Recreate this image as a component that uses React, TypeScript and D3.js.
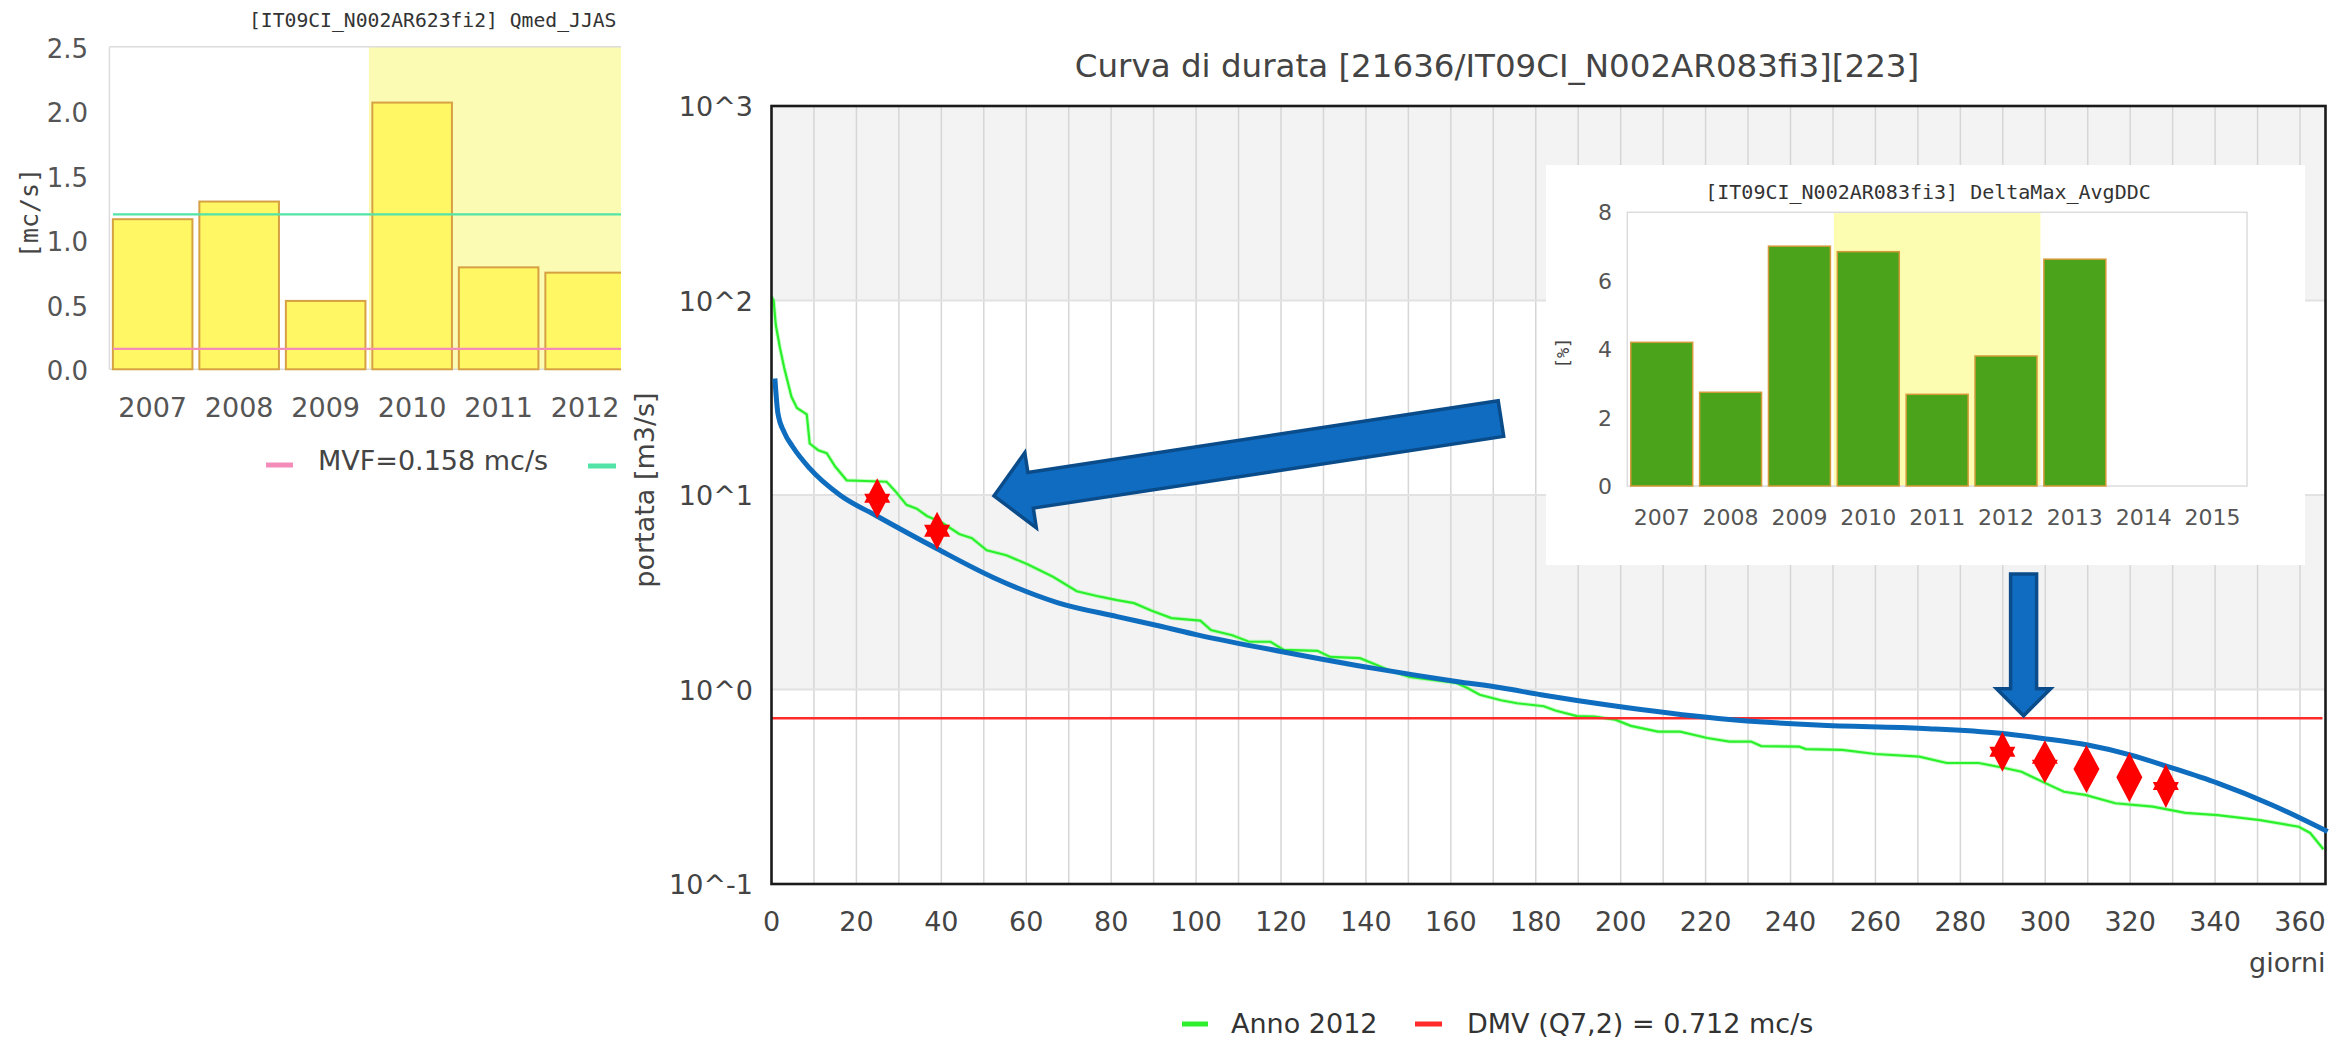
import React from "react";
import * as d3 from "d3";

const W = 2351;
const H = 1040;

// ---------- Main chart data (duration curve) ----------
const greenDays = [0, 0.5, 1, 2, 3, 4.7, 6, 8.3, 9, 11, 13, 15, 17.7, 22.1, 27.1, 29.1, 31.8, 34.2, 36.6, 40.2, 44.2, 47.2, 50.7, 55.3, 60.3, 66.3, 71.9, 77.4, 81.4, 85.4, 89.4, 94.2, 101, 103.5, 108.5, 112.5, 117.5, 120.6, 128.6, 131.6, 138.6, 142.4, 145.7, 150.3, 155.7, 161.3, 163.8, 166.8, 171.8, 175.6, 181.9, 184.6, 189.7, 193.9, 198.7, 202.4, 208.8, 214, 220.4, 225.6, 230.7, 233.1, 242.1, 243.6, 252.2, 260, 270.3, 276.8, 284.3, 290.4, 294.4, 299.4, 304.4, 309.4, 316.5, 325.3, 333, 340.6, 350.6, 359.7, 362.4, 365.5];
const greenFlows = [105, 100, 75, 57, 45, 32, 28, 26, 18.4, 17, 16.4, 14, 11.9, 11.8, 11.7, 10.5, 8.9, 8.5, 7.8, 7.2, 6.3, 6.0, 5.2, 4.9, 4.4, 3.8, 3.2, 3.0, 2.88, 2.78, 2.55, 2.33, 2.26, 2.02, 1.9, 1.76, 1.76, 1.6, 1.58, 1.47, 1.45, 1.34, 1.25, 1.16, 1.12, 1.08, 1.02, 0.94, 0.88, 0.85, 0.82, 0.78, 0.73, 0.725, 0.7, 0.65, 0.607, 0.607, 0.563, 0.54, 0.54, 0.512, 0.508, 0.494, 0.489, 0.466, 0.452, 0.419, 0.419, 0.395, 0.378, 0.335, 0.298, 0.287, 0.26, 0.25, 0.232, 0.226, 0.213, 0.197, 0.183, 0.151];

const blueDays = [0.8, 1.5, 3, 5, 9, 16.1, 24.8, 39, 52.2, 67.3, 81.4, 91.4, 100.3, 120.6, 142.3, 161.3, 171.8, 181.2, 197.4, 223, 246.2, 271.3, 289.4, 299.4, 310, 320.2, 329.1, 340.6, 353.4, 366.5];
const blueFlows = [39.7, 26.4, 21, 17.7, 13.7, 10, 7.8, 5.29, 3.77, 2.8, 2.37, 2.12, 1.91, 1.56, 1.28, 1.1, 1.02, 0.94, 0.83, 0.71, 0.656, 0.63, 0.595, 0.56, 0.518, 0.46, 0.4, 0.33, 0.255, 0.186];

const dmvValue = 0.712;
const xTickDays = [0, 20, 40, 60, 80, 100, 120, 140, 160, 180, 200, 220, 240, 260, 280, 300, 320, 340, 360];
const yTickExps = [-1, 0, 1, 2, 3];

const markerDays = [24.9, 39.0, 289.9, 299.9, 309.7, 319.8, 328.4];
const markerFlows = [9.62, 6.55, 0.479, 0.4255, 0.39, 0.3535, 0.319];

// arrows: [tailDay, tailFlow, tipDay, tipFlow]
const arrowBig = [171.8, 24.7, 52.4, 9.9];
const arrowDown = [294.9, 3.93, 294.9, 0.733];

// ---------- Left chart data ----------
const leftYears = ["2007", "2008", "2009", "2010", "2011", "2012"];
const leftValues = [1.163, 1.3, 0.53, 2.067, 0.79, 0.749];
const leftMvf = 0.158;
const leftRef = 1.2;
const leftYTicks = [0, 0.5, 1.0, 1.5, 2.0, 2.5];

// ---------- Inset chart data ----------
const insetYears = ["2007", "2008", "2009", "2010", "2011", "2012", "2013", "2014", "2015"];
const insetValues = [4.2, 2.74, 7.01, 6.85, 2.68, 3.8, 6.63, null, null];
const insetYTicks = [0, 2, 4, 6, 8];

// marker shape styles (size, spike offset)
const markerShapes = [
  { h: 40, s: 4.5 },
  { h: 38, s: 6 },
  { h: 40, s: 5 },
  { h: 43, s: 2 },
  { h: 48, s: 0 },
  { h: 50, s: 0 },
  { h: 44, s: 4 },
];

function starPath(cx: number, cy: number, w: number, h: number, s: number) {
  const hw = w / 2;
  // both triangles drawn with the same winding so that nonzero fill unites them
  return `M${cx},${cy - h / 2}L${cx + hw},${cy + s}L${cx - hw},${cy + s}Z` +
    `M${cx},${cy + h / 2}L${cx - hw},${cy - s}L${cx + hw},${cy - s}Z`;
}

function arrowPath(tail: [number, number], tip: [number, number], shaftW: number, headW: number, headL: number) {
  const dx = tip[0] - tail[0];
  const dy = tip[1] - tail[1];
  const len = Math.hypot(dx, dy);
  const ux = dx / len, uy = dy / len;
  const nx = -uy, ny = ux;
  const bx = tip[0] - ux * headL, by = tip[1] - uy * headL;
  const p = (x: number, y: number) => `${x.toFixed(1)},${y.toFixed(1)}`;
  return "M" + [
    p(tail[0] + nx * shaftW / 2, tail[1] + ny * shaftW / 2),
    p(bx + nx * shaftW / 2, by + ny * shaftW / 2),
    p(bx + nx * headW / 2, by + ny * headW / 2),
    p(tip[0], tip[1]),
    p(bx - nx * headW / 2, by - ny * headW / 2),
    p(bx - nx * shaftW / 2, by - ny * shaftW / 2),
    p(tail[0] - nx * shaftW / 2, tail[1] - ny * shaftW / 2),
  ].join("L") + "Z";
}

export default function App() {
  // main scales
  const mx = d3.scaleLinear().domain([0, 366]).range([771.5, 2325.5]);
  const my = d3.scaleLog().domain([0.1, 1000]).range([884, 106]);
  const pL = mx(0), pR = mx(366), pT = my(1000), pB = my(0.1);

  const greenPts = greenDays.map((d, i) => [d, greenFlows[i]] as [number, number]);
  const bluePts = blueDays.map((d, i) => [d, blueFlows[i]] as [number, number]);
  const lineGen = d3.line<[number, number]>().x((d) => mx(d[0])).y((d) => my(d[1]));
  const blueGen = d3.line<[number, number]>().x((d) => mx(d[0])).y((d) => my(d[1])).curve(d3.curveMonotoneX);

  const gridDays = d3.range(10, 366, 10);

  // left scales
  const lx = d3.scaleBand<string>().domain(leftYears).range([109.4, 628.4]).paddingInner(0.08).paddingOuter(0.04);
  const ly = d3.scaleLinear().domain([0, 2.5]).range([369.3, 46.7]);
  const lClip = 621;
  const lYellowX = ((lx("2009") as number) + lx.bandwidth() + (lx("2010") as number)) / 2;

  // inset scales
  const ix = d3.scaleBand<string>().domain(insetYears).range([1627.3, 2247]).paddingInner(0.1).paddingOuter(0.05);
  const iy = d3.scaleLinear().domain([0, 8]).range([486, 212.3]);
  const iY0 = ((ix("2009") as number) + ix.bandwidth() + (ix("2010") as number)) / 2;
  const iY1 = ((ix("2012") as number) + ix.bandwidth() + (ix("2013") as number)) / 2;

  const tickColor = "#444";

  const bigArrow = arrowPath(
    [mx(arrowBig[0]), my(arrowBig[1])],
    [mx(arrowBig[2]), my(arrowBig[3])],
    36, 76, 37
  );
  const downArrow = arrowPath(
    [mx(arrowDown[0]), my(arrowDown[1])],
    [mx(arrowDown[2]), my(arrowDown[3])],
    26, 54, 27
  );

  return (
    <svg
      width={W}
      height={H}
      viewBox={`0 0 ${W} ${H}`}
      style={{ position: "absolute", left: 0, top: 0, background: "#fff" }}
      fontFamily="DejaVu Sans"
    >
      <defs>
        <clipPath id="leftClip">
          <rect x={0} y={0} width={lClip} height={H} />
        </clipPath>
        <clipPath id="mainClip">
          <rect x={pL} y={pT} width={pR - pL + 3} height={pB - pT} />
        </clipPath>
      </defs>
      <rect x={0} y={0} width={W} height={H} fill="#fff" />

      {/* ================= LEFT CHART ================= */}
      <g clipPath="url(#leftClip)">
        <text x={249} y={27} fontFamily="DejaVu Sans Mono" fontSize={19.7} fill="#333">
          [IT09CI_N002AR623fi2] Qmed_JJAS
        </text>
        <rect x={lYellowX} y={ly(2.5)} width={lClip - lYellowX} height={ly(0) - ly(2.5)} fill="#fbfbb4" />
        <line x1={109.4} x2={lClip} y1={ly(2.5)} y2={ly(2.5)} stroke="#dcdcdc" strokeWidth={1.5} />
        <line x1={109.4} x2={109.4} y1={ly(2.5)} y2={ly(0)} stroke="#dcdcdc" strokeWidth={1.5} />
        <line x1={109.4} x2={lClip} y1={ly(0)} y2={ly(0)} stroke="#dcdcdc" strokeWidth={1.5} />
        {leftYears.map((yr, i) => (
          <rect
            key={yr}
            x={lx(yr)}
            y={ly(leftValues[i])}
            width={lx.bandwidth()}
            height={ly(0) - ly(leftValues[i])}
            fill="#fff764"
            stroke="#d6a043"
            strokeWidth={2}
          />
        ))}
        <line x1={113} x2={lClip} y1={ly(leftRef)} y2={ly(leftRef)} stroke="#52e3a6" strokeWidth={2.2} />
        <line x1={113} x2={lClip} y1={ly(leftMvf)} y2={ly(leftMvf)} stroke="#f48cba" strokeWidth={2.2} />
        {leftYTicks.map((t) => (
          <text key={t} x={88} y={ly(t) + 11} textAnchor="end" fontSize={26} fill="#555">
            {t.toFixed(1)}
          </text>
        ))}
        {leftYears.map((yr) => (
          <text key={yr} x={(lx(yr) as number) + lx.bandwidth() / 2} y={417} textAnchor="middle" fontSize={27} fill="#555">
            {yr}
          </text>
        ))}
        <text
          transform={`translate(38,213) rotate(-90)`}
          textAnchor="middle"
          fontFamily="DejaVu Sans Mono"
          fontSize={25}
          fill="#444"
        >
          [mc/s]
        </text>
        <line x1={266} x2={293} y1={465} y2={465} stroke="#f48cba" strokeWidth={5} />
        <text x={318} y={470} fontSize={27} fill="#444">MVF=0.158 mc/s</text>
        <line x1={588} x2={616} y1={466} y2={466} stroke="#52e3a6" strokeWidth={5} />
      </g>

      {/* ================= MAIN CHART ================= */}
      <text x={1497} y={77} textAnchor="middle" fontSize={32.5} fill="#444">
        Curva di durata [21636/IT09CI_N002AR083fi3][223]
      </text>

      {[-1, 0, 1, 2].map((e) => (
        <rect
          key={e}
          x={pL}
          y={my(Math.pow(10, e + 1))}
          width={pR - pL}
          height={my(Math.pow(10, e)) - my(Math.pow(10, e + 1))}
          fill={e % 2 === 0 ? "#f3f3f3" : "#ffffff"}
        />
      ))}
      {gridDays.map((d) => (
        <line key={d} x1={mx(d)} x2={mx(d)} y1={pT} y2={pB} stroke="#d6d6d6" strokeWidth={1.5} />
      ))}
      {[0, 1, 2].map((e) => (
        <line key={e} x1={pL} x2={pR} y1={my(Math.pow(10, e))} y2={my(Math.pow(10, e))} stroke="#e2e2e2" strokeWidth={2} />
      ))}

      <g clipPath="url(#mainClip)">
        <path d={lineGen(greenPts) as string} fill="none" stroke="#8cff8c" strokeWidth={4} strokeOpacity={0.5} />
        <path d={lineGen(greenPts) as string} fill="none" stroke="#2cf02c" strokeWidth={2.2} />
        <line x1={pL} x2={pR - 3} y1={my(dmvValue)} y2={my(dmvValue)} stroke="#ff2a2a" strokeWidth={2.4} />
      </g>

      <rect x={pL} y={pT} width={pR - pL} height={pB - pT} fill="none" stroke="#1a1a1a" strokeWidth={2.6} />

      <path d={blueGen(bluePts) as string} fill="none" stroke="#0f6dbf" strokeWidth={5} strokeLinecap="butt" />

      {yTickExps.map((e) => (
        <text key={e} x={753} y={my(Math.pow(10, e)) + 10} textAnchor="end" fontSize={27} fill={tickColor}>
          {`10^${e}`}
        </text>
      ))}
      {xTickDays.map((d) => (
        <text key={d} x={mx(d)} y={931} textAnchor="middle" fontSize={27} fill={tickColor}>
          {d}
        </text>
      ))}
      <text x={pR} y={972} textAnchor="end" fontSize={27} fill={tickColor}>giorni</text>
      <text transform={`translate(654,490) rotate(-90)`} textAnchor="middle" fontSize={27} fill={tickColor}>
        portata [m3/s]
      </text>

      {/* red star markers */}
      {markerDays.map((d, i) => (
        <path
          key={i}
          d={starPath(mx(d), my(markerFlows[i]), 26, markerShapes[i].h, markerShapes[i].s)}
          fill="#ff0000"
          fillRule="nonzero"
        />
      ))}

      {/* arrows */}
      <path d={bigArrow} fill="#106cc1" stroke="#0a4c8a" strokeWidth={3.5} strokeLinejoin="miter" />
      <path d={downArrow} fill="#106cc1" stroke="#0a4c8a" strokeWidth={3.5} strokeLinejoin="miter" />

      {/* ================= INSET ================= */}
      <rect x={1546} y={165} width={759} height={400} fill="#ffffff" />
      <text x={1928} y={199} textAnchor="middle" fontFamily="DejaVu Sans Mono" fontSize={20} fill="#333">
        [IT09CI_N002AR083fi3] DeltaMax_AvgDDC
      </text>
      <rect x={iY0} y={iy(8)} width={iY1 - iY0} height={iy(0) - iy(8)} fill="#fdfdb2" />
      <rect x={1627.3} y={iy(8)} width={2247 - 1627.3} height={iy(0) - iy(8)} fill="none" stroke="#dcdcdc" strokeWidth={1.5} />
      {insetYears.map((yr, i) => {
        const v = insetValues[i];
        if (v == null) return null;
        return (
          <rect
            key={yr}
            x={ix(yr)}
            y={iy(v)}
            width={ix.bandwidth()}
            height={iy(0) - iy(v)}
            fill="#4ba31c"
            stroke="#d49a3a"
            strokeWidth={1.5}
          />
        );
      })}
      {insetYTicks.map((t) => (
        <text key={t} x={1612} y={iy(t) + 8} textAnchor="end" fontSize={22} fill="#555">
          {t}
        </text>
      ))}
      {insetYears.map((yr) => (
        <text key={yr} x={(ix(yr) as number) + ix.bandwidth() / 2} y={525} textAnchor="middle" fontSize={22} fill="#555">
          {yr}
        </text>
      ))}
      <text
        transform={`translate(1569,353) rotate(-90)`}
        textAnchor="middle"
        fontFamily="DejaVu Sans Mono"
        fontSize={17}
        fill="#444"
      >
        [%]
      </text>

      {/* ================= MAIN LEGEND ================= */}
      <line x1={1182} x2={1208} y1={1024} y2={1024} stroke="#2cf02c" strokeWidth={5} />
      <text x={1231} y={1033} fontSize={27} fill="#333">Anno 2012</text>
      <line x1={1415} x2={1442} y1={1024} y2={1024} stroke="#ff2a2a" strokeWidth={5} />
      <text x={1467} y={1033} fontSize={27} fill="#333">DMV (Q7,2) = 0.712 mc/s</text>
    </svg>
  );
}
